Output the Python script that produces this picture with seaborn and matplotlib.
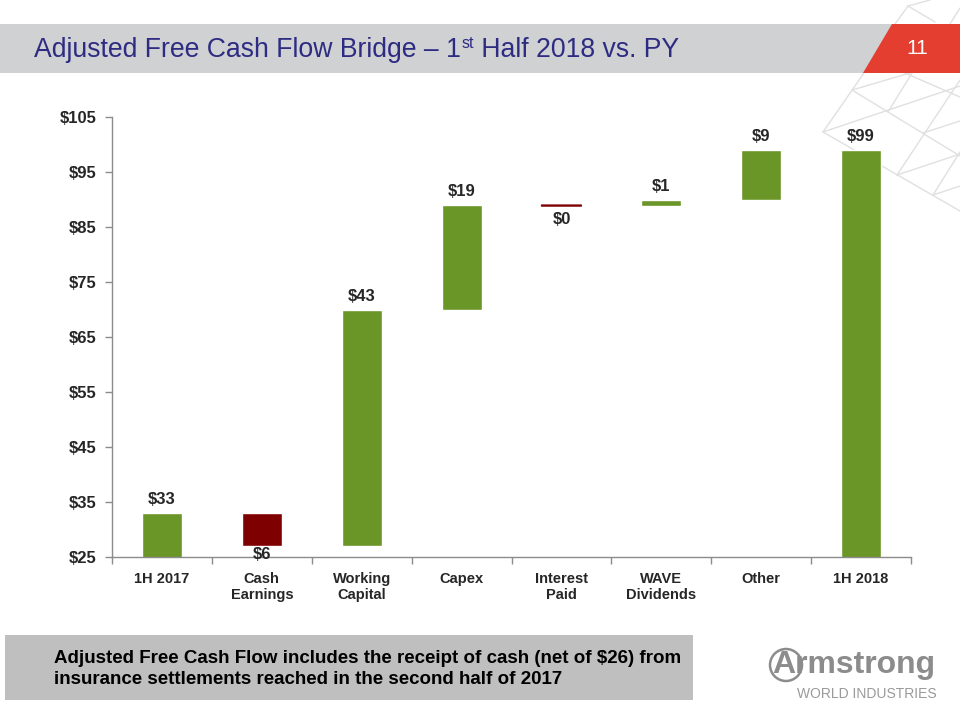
import matplotlib
matplotlib.use("Agg")
import matplotlib.pyplot as plt
import numpy as np
import pandas as pd
import seaborn as sns
from matplotlib.patches import Rectangle, Polygon, Ellipse
from matplotlib.lines import Line2D
from matplotlib import font_manager

# ---------------- data ----------------
categories = ["1H 2017", "Cash\nEarnings", "Working\nCapital", "Capex",
              "Interest\nPaid", "WAVE\nDividends", "Other", "1H 2018"]
changes = [33, -6, 43, 19, -0.2, 1.2, 9, 99]
is_total = [True, False, False, False, False, False, False, True]
y_ticks = [25, 35, 45, 55, 65, 75, 85, 95, 105]
y_tick_labels = ["$25", "$35", "$45", "$55", "$65", "$75", "$85", "$95", "$105"]

title_main = "Adjusted Free Cash Flow Bridge \u2013 1"
title_sup = "st"
title_rest = " Half 2018 vs. PY"
page_no = "11"
footnote = ("Adjusted Free Cash Flow includes the receipt of cash (net of $26) from\n"
            "insurance settlements reached in the second half of 2017")

GREEN = "#6A9527"
RED = "#7F0000"

# ---------------- waterfall geometry ----------------
bottoms, heights, colors = [], [], []
running = 0.0
for v, tot in zip(changes, is_total):
    if tot:
        bottoms.append(0.0)
        heights.append(v)
        running = v
        colors.append(GREEN)
    else:
        if v >= 0:
            bottoms.append(running)
        else:
            bottoms.append(running + v)
        heights.append(abs(v))
        running += v
        colors.append(GREEN if v >= 0 else RED)

df = pd.DataFrame({"category": categories, "height": heights})

sns.set_theme(style="white")
avail = {f.name for f in font_manager.fontManager.ttflist}
narrow = "Liberation Sans Narrow" if "Liberation Sans Narrow" in avail else "Liberation Sans"
plt.rcParams["font.family"] = ["Liberation Sans", "DejaVu Sans"]

W, H = 960, 720
fig = plt.figure(figsize=(9.6, 7.2), dpi=100)
fig.patch.set_facecolor("white")


def px(x, y):
    return (x / W, 1 - y / H)


# ---------------- background decoration ----------------
lattice = [
    ((823, 132), (960, 211)), ((852, 90), (960, 156)), ((905, 73), (960, 97)),
    ((823, 132), (960, 86)), ((897, 175), (960, 154)), ((933, 195), (960, 186)),
    ((852, 90), (910, 73)), ((923, 133), (960, 121)),
    ((823, 132), (864, 73)), ((897, 175), (960, 80)), ((888, 112), (912, 73)),
    ((933, 195), (960, 152)),
    ((908, 6), (895, 24)), ((908, 6), (930, 0)), ((908, 6), (935, 22)),
    ((950, 24), (960, 8)),
]
for (x0, y0), (x1, y1) in lattice:
    a, b = px(x0, y0), px(x1, y1)
    fig.add_artist(Line2D([a[0], b[0]], [a[1], b[1]], transform=fig.transFigure,
                          color="#E0E0E0", lw=1.0, zorder=-2))

# title band
fig.add_artist(Rectangle(px(0, 73), 900 / W, 49 / H, transform=fig.transFigure,
                         facecolor="#D0D1D3", edgecolor="none", zorder=-1))
fig.add_artist(Polygon([px(892, 24), px(960, 24), px(960, 73), px(863, 73)],
                       closed=True, transform=fig.transFigure,
                       facecolor="#E33E30", edgecolor="none", zorder=-0.5))
fig.text(*px(917, 48), page_no, ha="center", va="center", color="white",
         fontsize=15, family=[narrow, "DejaVu Sans"])

# footnote box
fig.add_artist(Rectangle(px(5, 700), 688 / W, 65 / H, transform=fig.transFigure,
                         facecolor="#BFBFBF", edgecolor="none", zorder=-1))
fig.text(*px(54, 669), footnote, ha="left", va="center", color="black",
         fontsize=13.5, fontweight="bold", linespacing=1.25,
         family=[narrow, "DejaVu Sans"])

# logo
fig.text(*px(772, 665), "Armstrong", ha="left", va="center", color="#8C8C8C",
         fontsize=23, fontweight="bold", family=["Liberation Sans", "DejaVu Sans"])
fig.add_artist(Ellipse(px(786, 665), 32 / W, 32 / H, transform=fig.transFigure,
                       facecolor="none", edgecolor="#8C8C8C", lw=1.8))
fig.text(*px(797, 694), "WORLD INDUSTRIES", ha="left", va="center", color="#9A9A9A",
         fontsize=10, family=["Liberation Sans", "DejaVu Sans"])

# ---------------- chart ----------------
ax = fig.add_axes([112 / W, 1 - 557 / H, 799 / W, 440 / H])
ax.patch.set_alpha(0)
sns.barplot(data=df, x="category", y="height", hue="category", palette=colors,
            order=categories, hue_order=categories, width=0.4, legend=False,
            saturation=1, ax=ax, zorder=2)
for patch, b, h, c in zip(ax.patches, bottoms, heights, colors):
    patch.set_y(b)
    if h < 0.5:
        patch.set_edgecolor(c)
        patch.set_linewidth(0.9)
        patch.set_snap(False)

ax.set_ylim(25, 105)
ax.set_xlim(-0.5, len(categories) - 0.5)
ax.set_yticks(y_ticks)
ax.set_yticklabels(y_tick_labels, fontsize=12, fontweight="bold")
ax.set_xticks(range(len(categories)))
ax.set_xticklabels(categories, fontsize=10.5, fontweight="bold", linespacing=1.15)
ax.set_xticks(np.arange(-0.5, len(categories)), minor=True)
ax.tick_params(axis="x", which="major", length=0, pad=11)
ax.tick_params(axis="x", which="minor", length=5, width=1, color="#8C8C8C",
               direction="out", bottom=True)
ax.tick_params(axis="y", length=5, width=1, color="#8C8C8C", direction="out",
               left=True, pad=6)
ax.set_xlabel("")
ax.set_ylabel("")
for s in ["top", "right"]:
    ax.spines[s].set_visible(False)
for s in ["left", "bottom"]:
    ax.spines[s].set_color("#8C8C8C")
    ax.spines[s].set_linewidth(1)

for i, (v, b, h) in enumerate(zip(changes, bottoms, heights)):
    label = f"${abs(v):.0f}"
    if v >= 0:
        ax.annotate(label, (i, b + h), xytext=(0, 4), textcoords="offset points",
                    ha="center", va="bottom", fontsize=12, fontweight="bold")
    else:
        ax.annotate(label, (i, b), xytext=(0, -1 if h > 1 else -4),
                    textcoords="offset points",
                    ha="center", va="top", fontsize=12, fontweight="bold")

# ---------------- title with superscript ----------------
renderer = fig.canvas.get_renderer()
tfam = [narrow, "DejaVu Sans"]
tcol = "#2E2C82"
x0, yb = px(34, 57)
t1 = fig.text(x0, yb, title_main, ha="left", va="baseline", fontsize=19.2,
              color=tcol, family=tfam)
bb = t1.get_window_extent(renderer)
x1 = bb.x1 / W
t2 = fig.text(x1 + 0.5 / W, yb + 9 / H, title_sup, ha="left", va="baseline",
              fontsize=11.5, color=tcol, family=tfam)
bb2 = t2.get_window_extent(renderer)
fig.text(bb2.x1 / W, yb, title_rest, ha="left", va="baseline", fontsize=19.2,
         color=tcol, family=tfam)

fig.savefig("out.png", dpi=100, facecolor="white")
